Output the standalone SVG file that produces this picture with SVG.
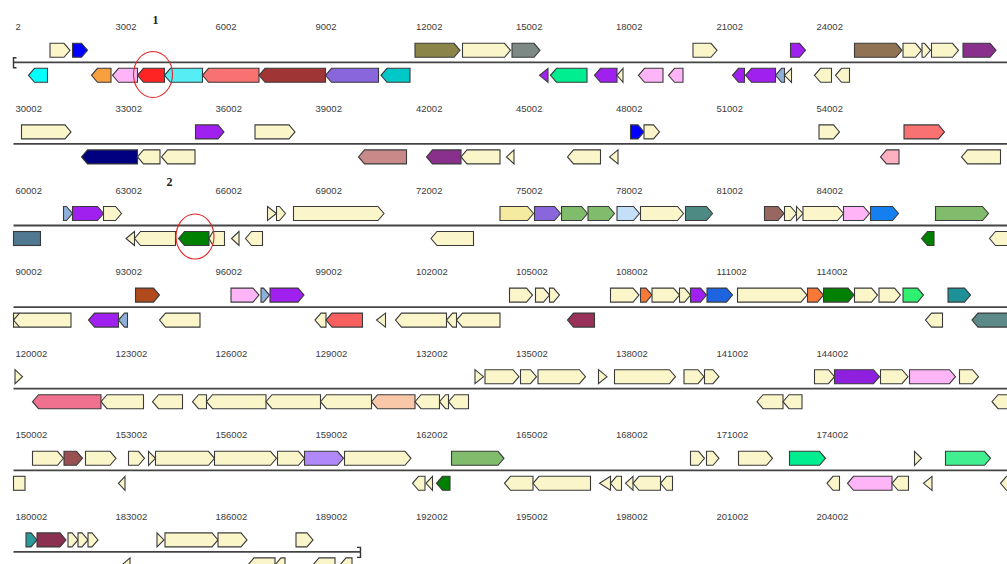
<svg xmlns="http://www.w3.org/2000/svg" width="1007" height="564" viewBox="0 0 1007 564">
<style>
polygon,rect{stroke:#3a3a3a;stroke-width:1.1;stroke-linejoin:miter}
.ax{stroke:#444;stroke-width:1.8;fill:none}
.br{stroke:#333;stroke-width:1.4;fill:none}
.lb{font-family:"Liberation Sans",Arial,sans-serif;font-size:9.5px;fill:#3c3c3c}
.num{font-family:"Liberation Serif","Times New Roman",serif;font-size:12px;font-weight:bold;fill:#222}
.c{fill:#FBF6C9}.pu{fill:#A020F0}.bl{fill:#0000FF}.ol{fill:#8B8448}.gy{fill:#7D8985}
.bn{fill:#8F7352}.dm{fill:#88308C}.cy{fill:#00FFFF}.or{fill:#F8A040}.pk{fill:#FDB5F8}
.rd{fill:#FF2424}.lc{fill:#55EEF5}.sa{fill:#F87272}.dr{fill:#A03535}.mp{fill:#8A66DC}
.dt{fill:#00C8C8}.sg{fill:#00EE90}.ls{fill:#8EB0D8}.nv{fill:#000080}.rb{fill:#C88A88}
.lp{fill:#FFB0C0}.py{fill:#F5EBA0}.gr{fill:#80BC6C}.lbl{fill:#C4E0F8}.tl{fill:#4E8A84}
.bw{fill:#986860}.db{fill:#1480F0}.sb{fill:#507890}.dg{fill:#008000}.si{fill:#B04A1C}
.ob{fill:#F87838}.rl{fill:#1E64E0}.s2{fill:#30F070}.te{fill:#1E9098}.mr{fill:#983058}
.cd{fill:#5C8A8A}.pr{fill:#F07090}.pe{fill:#F8C8A8}.dp{fill:#9020E0}.dro{fill:#985050}
.lv{fill:#B088F8}.s3{fill:#40F090}.tq{fill:#2A9A9A}.mo{fill:#8B3050}.sr{fill:#F86060}
.circ{fill:none;stroke:#E52222;stroke-width:1.1}
</style>

<g id="row1" transform="translate(0,62.3)">
<line class="ax" x1="13.5" y1="0" x2="1007" y2="0"/>
<path class="br" d="M16.5,-4.5 H13.5 V5.5 H16.5"/>
<g class="lb"><text x="15.5" y="-32">2</text><text x="115.5" y="-32">3002</text><text x="215.5" y="-32">6002</text><text x="315.5" y="-32">9002</text><text x="416" y="-32">12002</text><text x="516" y="-32">15002</text><text x="616" y="-32">18002</text><text x="716.5" y="-32">21002</text><text x="816.5" y="-32">24002</text></g>
<polygon class="c" points="50,-19 64,-19 70,-12 64,-5 50,-5"/>
<polygon class="bl" points="72.5,-19 81.5,-19 87.5,-12 81.5,-5 72.5,-5"/>
<polygon class="ol" points="415,-19 454,-19 460,-12 454,-5 415,-5"/>
<polygon class="c" points="462.5,-19 504.5,-19 510.5,-12 504.5,-5 462.5,-5"/>
<polygon class="gy" points="512,-19 534,-19 540,-12 534,-5 512,-5"/>
<polygon class="c" points="693,-19 711,-19 717,-12 711,-5 693,-5"/>
<polygon class="pu" points="790.5,-19 799.5,-19 805.5,-12 799.5,-5 790.5,-5"/>
<polygon class="bn" points="854.5,-19 896,-19 902,-12 896,-5 854.5,-5"/>
<polygon class="c" points="903,-19 915.5,-19 921.5,-12 915.5,-5 903,-5"/>
<polygon class="c" points="922,-19 924.5,-19 930.5,-12 924.5,-5 922,-5"/>
<polygon class="c" points="931.5,-19 952.5,-19 958.5,-12 952.5,-5 931.5,-5"/>
<polygon class="dm" points="963,-19 990,-19 996,-12 990,-5 963,-5"/>
<polygon class="cy" points="47.5,6 34.5,6 28.5,13 34.5,20 47.5,20"/>
<polygon class="or" points="111,6 97.5,6 91.5,13 97.5,20 111,20"/>
<polygon class="pk" points="137.5,6 118.5,6 112.5,13 118.5,20 137.5,20"/>
<polygon class="rd" points="164.5,6 143.5,6 137.5,13 143.5,20 164.5,20"/>
<polygon class="lc" points="202.5,6 170.5,6 164.5,13 170.5,20 202.5,20"/>
<polygon class="sa" points="259,6 208.5,6 202.5,13 208.5,20 259,20"/>
<polygon class="dr" points="325.5,6 265,6 259,13 265,20 325.5,20"/>
<polygon class="mp" points="378.5,6 331.5,6 325.5,13 331.5,20 378.5,20"/>
<polygon class="dt" points="410,6 387,6 381,13 387,20 410,20"/>
<polygon class="pu" points="548,6 539.5,13 548,20"/>
<polygon class="sg" points="587,6 556.5,6 550.5,13 556.5,20 587,20"/>
<polygon class="pu" points="617,6 600.5,6 594.5,13 600.5,20 617,20"/>
<polygon class="c" points="623,6 617,13 623,20"/>
<polygon class="pk" points="663,6 644.5,6 638.5,13 644.5,20 663,20"/>
<polygon class="pk" points="683,6 674.5,6 668.5,13 674.5,20 683,20"/>
<polygon class="pu" points="744.5,6 738.5,6 732.5,13 738.5,20 744.5,20"/>
<polygon class="pu" points="775.5,6 751.5,6 745.5,13 751.5,20 775.5,20"/>
<polygon class="ls" points="784.5,6 781.5,6 775.5,13 781.5,20 784.5,20"/>
<polygon class="c" points="791.5,6 784.5,13 791.5,20"/>
<polygon class="c" points="831.5,6 820.5,6 814.5,13 820.5,20 831.5,20"/>
<polygon class="c" points="849.5,6 841.5,6 835.5,13 841.5,20 849.5,20"/>
</g>

<g id="row2" transform="translate(0,143.9)">
<line class="ax" x1="13.5" y1="0" x2="1007" y2="0"/>
<g class="lb"><text x="15.5" y="-32">30002</text><text x="115.5" y="-32">33002</text><text x="215.5" y="-32">36002</text><text x="315.5" y="-32">39002</text><text x="416" y="-32">42002</text><text x="516" y="-32">45002</text><text x="616" y="-32">48002</text><text x="716.5" y="-32">51002</text><text x="816.5" y="-32">54002</text></g>
<polygon class="c" points="21.5,-19 65,-19 71,-12 65,-5 21.5,-5"/>
<polygon class="pu" points="195.5,-19 218,-19 224,-12 218,-5 195.5,-5"/>
<polygon class="c" points="255,-19 289,-19 295,-12 289,-5 255,-5"/>
<polygon class="bl" points="630.5,-19 638,-19 644,-12 638,-5 630.5,-5"/>
<polygon class="c" points="644,-19 653.5,-19 659.5,-12 653.5,-5 644,-5"/>
<polygon class="c" points="819,-19 833.5,-19 839.5,-12 833.5,-5 819,-5"/>
<polygon class="sa" points="904,-19 938.5,-19 944.5,-12 938.5,-5 904,-5"/>
<polygon class="nv" points="137.5,6 87.5,6 81.5,13 87.5,20 137.5,20"/>
<polygon class="c" points="160,6 143.5,6 137.5,13 143.5,20 160,20"/>
<polygon class="c" points="195,6 167.5,6 161.5,13 167.5,20 195,20"/>
<polygon class="rb" points="406.5,6 364.5,6 358.5,13 364.5,20 406.5,20"/>
<polygon class="dm" points="461,6 432.5,6 426.5,13 432.5,20 461,20"/>
<polygon class="c" points="500,6 467,6 461,13 467,20 500,20"/>
<polygon class="c" points="514,6 506.5,13 514,20"/>
<polygon class="c" points="600.5,6 573.5,6 567.5,13 573.5,20 600.5,20"/>
<polygon class="c" points="618,6 609.5,13 618,20"/>
<polygon class="lp" points="899,6 886.5,6 880.5,13 886.5,20 899,20"/>
<polygon class="c" points="1000.5,6 967.5,6 961.5,13 967.5,20 1000.5,20"/>
</g>

<g id="row3" transform="translate(0,225.5)">
<line class="ax" x1="13.5" y1="0" x2="1007" y2="0"/>
<g class="lb"><text x="15.5" y="-32">60002</text><text x="115.5" y="-32">63002</text><text x="215.5" y="-32">66002</text><text x="315.5" y="-32">69002</text><text x="416" y="-32">72002</text><text x="516" y="-32">75002</text><text x="616" y="-32">78002</text><text x="716.5" y="-32">81002</text><text x="816.5" y="-32">84002</text></g>
<polygon class="ls" points="63.5,-19 66.5,-19 72.5,-12 66.5,-5 63.5,-5"/>
<polygon class="pu" points="72.5,-19 97.5,-19 103.5,-12 97.5,-5 72.5,-5"/>
<polygon class="c" points="103.5,-19 115.5,-19 121.5,-12 115.5,-5 103.5,-5"/>
<polygon class="c" points="267.5,-19 276.5,-12 267.5,-5"/>
<polygon class="c" points="276.5,-19 279.5,-19 285.5,-12 279.5,-5 276.5,-5"/>
<polygon class="c" points="293.5,-19 378,-19 384,-12 378,-5 293.5,-5"/>
<polygon class="py" points="500,-19 527.5,-19 533.5,-12 527.5,-5 500,-5"/>
<polygon class="mp" points="534.5,-19 554.5,-19 560.5,-12 554.5,-5 534.5,-5"/>
<polygon class="gr" points="561.5,-19 581.5,-19 587.5,-12 581.5,-5 561.5,-5"/>
<polygon class="gr" points="588,-19 608.5,-19 614.5,-12 608.5,-5 588,-5"/>
<polygon class="lbl" points="617,-19 633.5,-19 639.5,-12 633.5,-5 617,-5"/>
<polygon class="c" points="640.5,-19 677.5,-19 683.5,-12 677.5,-5 640.5,-5"/>
<polygon class="tl" points="685.5,-19 706.5,-19 712.5,-12 706.5,-5 685.5,-5"/>
<polygon class="bw" points="764.5,-19 778,-19 784,-12 778,-5 764.5,-5"/>
<polygon class="c" points="784.5,-19 790.5,-19 796.5,-12 790.5,-5 784.5,-5"/>
<polygon class="c" points="796.5,-19 803,-12 796.5,-5"/>
<polygon class="c" points="803,-19 837.5,-19 843.5,-12 837.5,-5 803,-5"/>
<polygon class="pk" points="843.5,-19 863.5,-19 869.5,-12 863.5,-5 843.5,-5"/>
<polygon class="db" points="870.5,-19 892.5,-19 898.5,-12 892.5,-5 870.5,-5"/>
<polygon class="gr" points="935.5,-19 982.5,-19 988.5,-12 982.5,-5 935.5,-5"/>
<rect class="sb" x="13.5" y="6" width="27" height="14"/>
<polygon class="c" points="134.5,6 126,13 134.5,20"/>
<polygon class="c" points="175.5,6 140.5,6 134.5,13 140.5,20 175.5,20"/>
<polygon class="dg" points="209,6 184.5,6 178.5,13 184.5,20 209,20"/>
<polygon class="c" points="224.5,6 213,6 209,13 213,20 224.5,20"/>
<polygon class="c" points="239,6 231.5,13 239,20"/>
<polygon class="c" points="262.5,6 251.5,6 245.5,13 251.5,20 262.5,20"/>
<polygon class="c" points="473.5,6 437,6 431,13 437,20 473.5,20"/>
<polygon class="dg" points="934,6 927.5,6 921.5,13 927.5,20 934,20"/>
<polygon class="c" points="1012,6 995.5,6 989.5,13 995.5,20 1012,20"/>
</g>

<g id="row4" transform="translate(0,307.1)">
<line class="ax" x1="13.5" y1="0" x2="1007" y2="0"/>
<g class="lb"><text x="15.5" y="-32">90002</text><text x="115.5" y="-32">93002</text><text x="215.5" y="-32">96002</text><text x="315.5" y="-32">99002</text><text x="416" y="-32">102002</text><text x="516" y="-32">105002</text><text x="616" y="-32">108002</text><text x="716.5" y="-32">111002</text><text x="816.5" y="-32">114002</text></g>
<polygon class="si" points="135.5,-19 153.5,-19 159.5,-12 153.5,-5 135.5,-5"/>
<polygon class="pk" points="231,-19 253,-19 259,-12 253,-5 231,-5"/>
<polygon class="ls" points="261,-19 263.5,-19 269.5,-12 263.5,-5 261,-5"/>
<polygon class="pu" points="270,-19 298,-19 304,-12 298,-5 270,-5"/>
<polygon class="c" points="509.5,-19 526.5,-19 532.5,-12 526.5,-5 509.5,-5"/>
<polygon class="c" points="535.5,-19 543.5,-19 549.5,-12 543.5,-5 535.5,-5"/>
<polygon class="c" points="549.5,-19 553.5,-19 559.5,-12 553.5,-5 549.5,-5"/>
<polygon class="c" points="610.5,-19 633,-19 639,-12 633,-5 610.5,-5"/>
<polygon class="ob" points="640.5,-19 646,-19 652,-12 646,-5 640.5,-5"/>
<polygon class="c" points="652,-19 673.5,-19 679.5,-12 673.5,-5 652,-5"/>
<polygon class="c" points="679.5,-19 684.5,-19 690.5,-12 684.5,-5 679.5,-5"/>
<polygon class="pu" points="690.5,-19 700.5,-19 706.5,-12 700.5,-5 690.5,-5"/>
<polygon class="rl" points="707,-19 726.5,-19 732.5,-12 726.5,-5 707,-5"/>
<polygon class="c" points="737.5,-19 801,-19 807,-12 801,-5 737.5,-5"/>
<polygon class="ob" points="807.5,-19 817.5,-19 823.5,-12 817.5,-5 807.5,-5"/>
<polygon class="dg" points="823.5,-19 848,-19 854,-12 848,-5 823.5,-5"/>
<polygon class="c" points="854.5,-19 871.5,-19 877.5,-12 871.5,-5 854.5,-5"/>
<polygon class="c" points="879,-19 894.5,-19 900.5,-12 894.5,-5 879,-5"/>
<polygon class="s2" points="903,-19 917.5,-19 923.5,-12 917.5,-5 903,-5"/>
<polygon class="te" points="948,-19 964.5,-19 970.5,-12 964.5,-5 948,-5"/>
<polygon class="c" points="71,6 13.5,6 13.5,20 71,20"/>
<polyline points="19.5,6 13.5,13 19.5,20" style="fill:none;stroke:#3a3a3a;stroke-width:1.1"/>
<polygon class="pu" points="118.5,6 94.5,6 88.5,13 94.5,20 118.5,20"/>
<polygon class="ls" points="127.5,6 124.5,6 118.5,13 124.5,20 127.5,20"/>
<polygon class="c" points="200,6 165.5,6 159.5,13 165.5,20 200,20"/>
<polygon class="c" points="326,6 321,6 315,13 321,20 326,20"/>
<polygon class="sr" points="362.5,6 332,6 326,13 332,20 362.5,20"/>
<polygon class="c" points="385.5,6 376.5,13 385.5,20"/>
<polygon class="c" points="446.5,6 401.5,6 395.5,13 401.5,20 446.5,20"/>
<polygon class="c" points="456.5,6 452.5,6 446.5,13 452.5,20 456.5,20"/>
<polygon class="c" points="500,6 462.5,6 456.5,13 462.5,20 500,20"/>
<polygon class="mr" points="594.5,6 573.5,6 567.5,13 573.5,20 594.5,20"/>
<polygon class="c" points="942.5,6 931.5,6 925.5,13 931.5,20 942.5,20"/>
<polygon class="cd" points="1012,6 978,6 972,13 978,20 1012,20"/>
</g>

<g id="row5" transform="translate(0,388.7)">
<line class="ax" x1="13.5" y1="0" x2="1007" y2="0"/>
<g class="lb"><text x="15.5" y="-32">120002</text><text x="115.5" y="-32">123002</text><text x="215.5" y="-32">126002</text><text x="315.5" y="-32">129002</text><text x="416" y="-32">132002</text><text x="516" y="-32">135002</text><text x="616" y="-32">138002</text><text x="716.5" y="-32">141002</text><text x="816.5" y="-32">144002</text></g>
<polygon class="c" points="15,-19 22.5,-12 15,-5"/>
<polygon class="c" points="475,-19 483.5,-12 475,-5"/>
<polygon class="c" points="485,-19 513,-19 519,-12 513,-5 485,-5"/>
<polygon class="c" points="520.5,-19 530.5,-19 536.5,-12 530.5,-5 520.5,-5"/>
<polygon class="c" points="538,-19 579.5,-19 585.5,-12 579.5,-5 538,-5"/>
<polygon class="c" points="598.5,-19 607,-12 598.5,-5"/>
<polygon class="c" points="614.5,-19 669.5,-19 675.5,-12 669.5,-5 614.5,-5"/>
<polygon class="c" points="684,-19 698,-19 704,-12 698,-5 684,-5"/>
<polygon class="c" points="704.5,-19 713,-19 719,-12 713,-5 704.5,-5"/>
<polygon class="c" points="814.5,-19 828.5,-19 834.5,-12 828.5,-5 814.5,-5"/>
<polygon class="dp" points="834.5,-19 873.5,-19 879.5,-12 873.5,-5 834.5,-5"/>
<polygon class="c" points="880.5,-19 902,-19 908,-12 902,-5 880.5,-5"/>
<polygon class="pk" points="909.5,-19 949.5,-19 955.5,-12 949.5,-5 909.5,-5"/>
<polygon class="c" points="959.5,-19 972.5,-19 978.5,-12 972.5,-5 959.5,-5"/>
<polygon class="pr" points="101,6 38.5,6 32.5,13 38.5,20 101,20"/>
<polygon class="c" points="143.5,6 107,6 101,13 107,20 143.5,20"/>
<polygon class="c" points="182.5,6 158.5,6 152.5,13 158.5,20 182.5,20"/>
<polygon class="c" points="206.5,6 198.5,6 192.5,13 198.5,20 206.5,20"/>
<polygon class="c" points="266,6 212.5,6 206.5,13 212.5,20 266,20"/>
<polygon class="c" points="320.5,6 272,6 266,13 272,20 320.5,20"/>
<polygon class="c" points="371.5,6 326.5,6 320.5,13 326.5,20 371.5,20"/>
<polygon class="pe" points="415,6 377.5,6 371.5,13 377.5,20 415,20"/>
<polygon class="c" points="439.5,6 421,6 415,13 421,20 439.5,20"/>
<polygon class="c" points="448.5,6 445.5,6 439.5,13 445.5,20 448.5,20"/>
<polygon class="c" points="468.5,6 454.5,6 448.5,13 454.5,20 468.5,20"/>
<polygon class="c" points="783,6 763,6 757,13 763,20 783,20"/>
<polygon class="c" points="802,6 789,6 783,13 789,20 802,20"/>
<polygon class="c" points="1012,6 998,6 992,13 998,20 1012,20"/>
</g>

<g id="row6" transform="translate(0,470.3)">
<line class="ax" x1="13.5" y1="0" x2="1007" y2="0"/>
<g class="lb"><text x="15.5" y="-32">150002</text><text x="115.5" y="-32">153002</text><text x="215.5" y="-32">156002</text><text x="315.5" y="-32">159002</text><text x="416" y="-32">162002</text><text x="516" y="-32">165002</text><text x="616" y="-32">168002</text><text x="716.5" y="-32">171002</text><text x="816.5" y="-32">174002</text></g>
<polygon class="c" points="32.5,-19 57.5,-19 63.5,-12 57.5,-5 32.5,-5"/>
<polygon class="dro" points="64,-19 76.5,-19 82.5,-12 76.5,-5 64,-5"/>
<polygon class="c" points="85.5,-19 110,-19 116,-12 110,-5 85.5,-5"/>
<polygon class="c" points="128.5,-19 138.5,-19 144.5,-12 138.5,-5 128.5,-5"/>
<polygon class="c" points="148.5,-19 155.5,-12 148.5,-5"/>
<polygon class="c" points="155.5,-19 208.5,-19 214.5,-12 208.5,-5 155.5,-5"/>
<polygon class="c" points="214.5,-19 270.5,-19 276.5,-12 270.5,-5 214.5,-5"/>
<polygon class="c" points="277.5,-19 298.5,-19 304.5,-12 298.5,-5 277.5,-5"/>
<polygon class="lv" points="304.5,-19 337.5,-19 343.5,-12 337.5,-5 304.5,-5"/>
<polygon class="c" points="344.5,-19 405,-19 411,-12 405,-5 344.5,-5"/>
<polygon class="gr" points="451.5,-19 498,-19 504,-12 498,-5 451.5,-5"/>
<polygon class="c" points="690.5,-19 698.5,-19 704.5,-12 698.5,-5 690.5,-5"/>
<polygon class="c" points="706.5,-19 713,-19 719,-12 713,-5 706.5,-5"/>
<polygon class="c" points="738.5,-19 766.5,-19 772.5,-12 766.5,-5 738.5,-5"/>
<polygon class="sg" points="789.5,-19 819.5,-19 825.5,-12 819.5,-5 789.5,-5"/>
<polygon class="c" points="914.5,-19 921.5,-12 914.5,-5"/>
<polygon class="s3" points="945.5,-19 984.5,-19 990.5,-12 984.5,-5 945.5,-5"/>
<rect class="c" x="13.5" y="6" width="11.5" height="14"/>
<polygon class="c" points="125,6 118.5,13 125,20"/>
<polygon class="c" points="425,6 418.5,6 412.5,13 418.5,20 425,20"/>
<polygon class="c" points="432.5,6 426,13 432.5,20"/>
<polygon class="dg" points="450,6 442.5,6 436.5,13 442.5,20 450,20"/>
<polygon class="c" points="533,6 510.5,6 504.5,13 510.5,20 533,20"/>
<polygon class="c" points="590.5,6 539,6 533,13 539,20 590.5,20"/>
<polygon class="c" points="610.5,6 599.5,13 610.5,20"/>
<polygon class="c" points="621.5,6 616.5,6 610.5,13 616.5,20 621.5,20"/>
<polygon class="c" points="633,6 625.5,13 633,20"/>
<polygon class="c" points="660.5,6 639,6 633,13 639,20 660.5,20"/>
<polygon class="c" points="672.5,6 666.5,6 660.5,13 666.5,20 672.5,20"/>
<polygon class="c" points="839.5,6 833,6 827,13 833,20 839.5,20"/>
<polygon class="pk" points="892,6 853.5,6 847.5,13 853.5,20 892,20"/>
<polygon class="c" points="908.5,6 898,6 892,13 898,20 908.5,20"/>
<polygon class="c" points="932,6 923.5,13 932,20"/>
<polygon class="c" points="1012,6 1006.5,6 1000.5,13 1006.5,20 1012,20"/>
</g>

<g id="row7" transform="translate(0,551.9)">
<line class="ax" x1="13.5" y1="0" x2="360" y2="0"/>
<path class="br" d="M357,-4.5 H360.5 V5.5 H357"/>
<g class="lb"><text x="15.5" y="-32">180002</text><text x="115.5" y="-32">183002</text><text x="215.5" y="-32">186002</text><text x="315.5" y="-32">189002</text><text x="416" y="-32">192002</text><text x="516" y="-32">195002</text><text x="616" y="-32">198002</text><text x="716.5" y="-32">201002</text><text x="816.5" y="-32">204002</text></g>
<polygon class="tq" points="26,-19 31,-19 37,-12 31,-5 26,-5"/>
<polygon class="mo" points="37,-19 60,-19 66,-12 60,-5 37,-5"/>
<polygon class="c" points="68,-19 72,-19 78,-12 72,-5 68,-5"/>
<polygon class="c" points="78,-19 82,-19 88,-12 82,-5 78,-5"/>
<polygon class="c" points="88,-19 92,-19 98,-12 92,-5 88,-5"/>
<polygon class="c" points="157,-19 164,-12 157,-5"/>
<polygon class="c" points="165,-19 212,-19 218,-12 212,-5 165,-5"/>
<polygon class="c" points="218,-19 241,-19 247,-12 241,-5 218,-5"/>
<polygon class="c" points="296,-19 307,-19 313,-12 307,-5 296,-5"/>
<polygon class="c" points="130,6 122,13 130,20"/>
<polygon class="c" points="275,6 254,6 248,13 254,20 275,20"/>
<polygon class="c" points="285,6 281,6 275,13 281,20 285,20"/>
<polygon class="c" points="335,6 319,6 313,13 319,20 335,20"/>
<polygon class="c" points="352,6 346,6 340,13 346,20 352,20"/>
</g>

<g id="marks">
<text class="num" x="152.5" y="24">1</text>
<text class="num" x="166.5" y="186">2</text>
<ellipse class="circ" cx="153" cy="74.5" rx="19.5" ry="23"/>
<ellipse class="circ" cx="195" cy="236.5" rx="19" ry="22.5"/>
</g>
</svg>
